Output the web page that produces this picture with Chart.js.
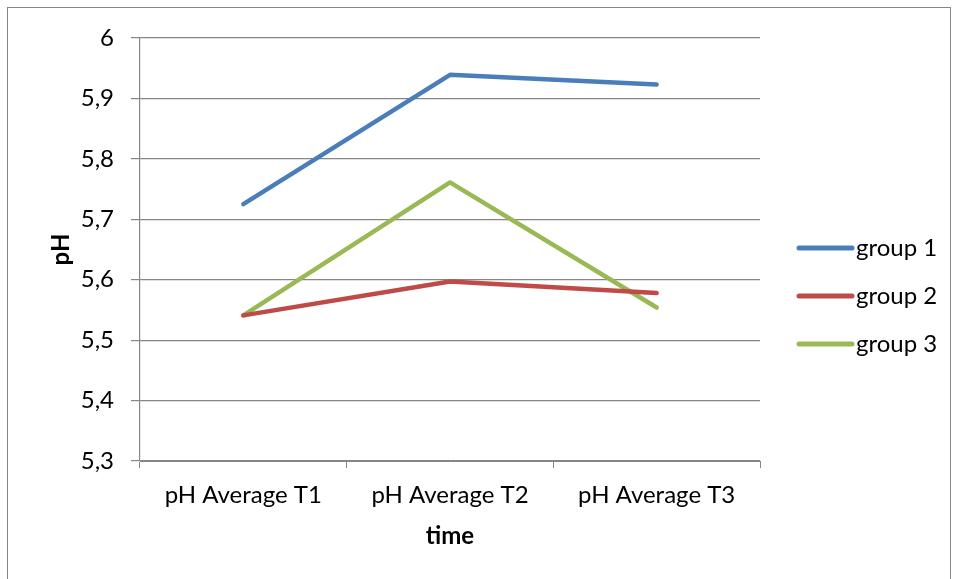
<!DOCTYPE html>
<html>
<head>
<meta charset="utf-8">
<script src="https://cdn.jsdelivr.net/npm/chart.js@4.4.1/dist/chart.umd.min.js"></script>
<style>
  html, body { margin: 0; padding: 0; background: #fff; overflow: hidden; }
  #frame { position: absolute; left: 7px; top: 7px; width: 944px; height: 620px; border: 1px solid #868686; box-sizing: border-box; }
  #wrap { position: absolute; left: 0; top: 0; width: 955px; height: 579px; }
</style>
</head>
<body>
<div id="frame"></div>
<div id="wrap"><canvas id="phChart"></canvas></div>
<script>
// Data
let categories = ["pH Average T1", "pH Average T2", "pH Average T3"];
let group1 = [5.725, 5.939, 5.923];
let group2 = [5.541, 5.597, 5.578];
let group3 = [5.541, 5.761, 5.554];
let seriesNames = ["group 1", "group 2", "group 3"];
let yTickLabels = ["5,3", "5,4", "5,5", "5,6", "5,7", "5,8", "5,9", "6"];

let lineColors = ["#4A7EBB", "#BE4B48", "#98B954"];
let fontFamily = "Lato, 'Open Sans', sans-serif";
let gridGray = "#868686";

// simple legend drawn at the right, like the Excel one
const sideLegend = {
    id: "sideLegend",
    afterDraw(chart) {
        let ctx = chart.ctx;
        ctx.save();
        chart.data.datasets.forEach((ds, i) => {
            let y = 248 + i * 48;
            ctx.strokeStyle = ds.borderColor;
            ctx.lineWidth = 5;
            ctx.lineCap = "round";
            ctx.beginPath();
            ctx.moveTo(799, y);
            ctx.lineTo(852, y);
            ctx.stroke();
            ctx.fillStyle = "#000";
            ctx.font = "24px " + fontFamily;
            ctx.textBaseline = "middle";
            ctx.textAlign = "left";
            ctx.fillText(ds.label, 856, y);
        });
        ctx.restore();
    }
};

let ctx = document.getElementById("phChart").getContext("2d");
new Chart(ctx, {
    type: "line",
    data: {
        labels: categories,
        datasets: [group1, group2, group3].map((vals, i) => ({
            label: seriesNames[i],
            data: vals,
            borderColor: lineColors[i],
            backgroundColor: lineColors[i],
            borderWidth: 4.5,
            borderCapStyle: "round",
            borderJoinStyle: "round",
            pointRadius: 0,
            tension: 0
        }))
    },
    options: {
        responsive: true,
        maintainAspectRatio: false,
        animation: false,
        layout: { padding: { left: 0, right: 195, top: 38, bottom: 0 } },
        plugins: {
            legend: { display: false },
            tooltip: { enabled: false }
        },
        scales: {
            x: {
                offset: true,
                afterFit(scale) { scale.height = 118; },
                grid: { offset: true, drawOnChartArea: false, color: gridGray, tickLength: 7 },
                border: { color: gridGray, width: 1 },
                ticks: { color: "#000", font: { family: fontFamily, size: 24 }, padding: 13, maxRotation: 0 },
                title: { display: true, text: "time", color: "#000", font: { family: fontFamily, size: 24, weight: "bold" }, padding: { bottom: 28 } }
            },
            y: {
                min: 5.3,
                max: 6,
                afterFit(scale) { scale.width = 140; },
                ticks: {
                    stepSize: 0.1,
                    color: "#000",
                    font: { family: fontFamily, size: 24 },
                    padding: 17,
                    callback: function (value, index) { return yTickLabels[index]; }
                },
                grid: { color: gridGray, lineWidth: 1.2, tickLength: 9 },
                border: { color: gridGray, width: 1.2 },
                title: { display: true, text: "pH", color: "#000", font: { family: fontFamily, size: 24, weight: "bold" }, padding: { top: 47 } }
            }
        }
    },
    plugins: [sideLegend]
});
</script>
</body>
</html>
